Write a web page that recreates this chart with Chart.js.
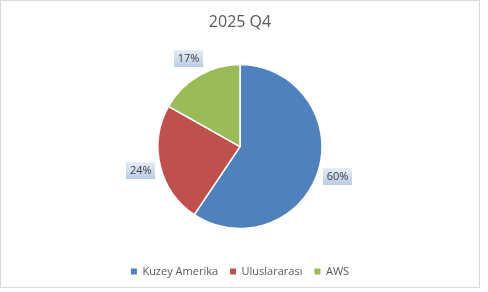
<!DOCTYPE html>
<html>
<head>
<meta charset="utf-8">
<script src="https://cdn.jsdelivr.net/npm/chart.js@4/dist/chart.umd.min.js"></script>
<style>
    html, body { margin: 0; padding: 0; background: #fff; }
    #kutu { width: 480px; height: 288px; box-sizing: border-box; border: 1px solid #d9d9d9; }
    #grafik { display: block; }
</style>
</head>
<body>
<div id="kutu"><canvas id="grafik" width="478" height="286"></canvas></div>
<script>
const bolgeler = ['Kuzey Amerika', 'Uluslararası', 'AWS'];
const paylar = [60, 24, 17];
const renkler = ['#4f81bd', '#c0504d', '#9bbb59'];

// yüzde etiketleri, dilimin dışında mavi kutu içinde
const etiketEklentisi = {
    id: 'yuzdeEtiketleri',
    afterDatasetsDraw(chart) {
        const ctx = chart.ctx;
        const meta = chart.getDatasetMeta(0);
        ctx.save();
        ctx.font = '11px "Open Sans"';
        ctx.textAlign = 'center';
        ctx.textBaseline = 'middle';
        meta.data.forEach((arc, i) => {
            const aci = (arc.startAngle + arc.endAngle) / 2;
            const r = arc.outerRadius + 20;
            const x = arc.x + Math.cos(aci) * r;
            const y = arc.y + Math.sin(aci) * r;
            const yazi = paylar[i] + '%';
            const g = ctx.measureText(yazi).width + 7;
            const h = 17;
            const grad = ctx.createLinearGradient(0, y - h / 2, 0, y + h / 2);
            grad.addColorStop(0, '#e6edf6');
            grad.addColorStop(1, '#b9cde5');
            ctx.fillStyle = grad;
            ctx.fillRect(Math.round(x - g / 2), Math.round(y - h / 2), Math.round(g), h);
            ctx.fillStyle = '#404040';
            ctx.fillText(yazi, x, y + 0.5);
        });
        ctx.restore();
    }
};

new Chart(document.getElementById('grafik').getContext('2d'), {
    type: 'pie',
    data: {
        labels: bolgeler,
        datasets: [{
            data: paylar,
            backgroundColor: renkler,
            borderColor: '#fff',
            borderWidth: 1.5,
            radius: 82
        }]
    },
    options: {
        responsive: false,
        animation: false,
        layout: { padding: 0 },
        plugins: {
            title: {
                display: true,
                text: '2025 Q4',
                color: '#595959',
                font: { family: '"Open Sans"', size: 16, weight: 'normal' },
                padding: { top: 12, bottom: 7 }
            },
            legend: {
                position: 'bottom',
                labels: {
                    color: '#595959',
                    font: { family: '"Open Sans"', size: 11 },
                    boxWidth: 6,
                    boxHeight: 6,
                    padding: 12,
                    generateLabels(chart) {
                        return Chart.overrides.pie.plugins.legend.labels.generateLabels(chart)
                            .map(l => Object.assign(l, { lineWidth: 0, strokeStyle: 'transparent' }));
                    }
                }
            },
            tooltip: { enabled: false }
        }
    },
    plugins: [etiketEklentisi]
});
</script>
</body>
</html>
